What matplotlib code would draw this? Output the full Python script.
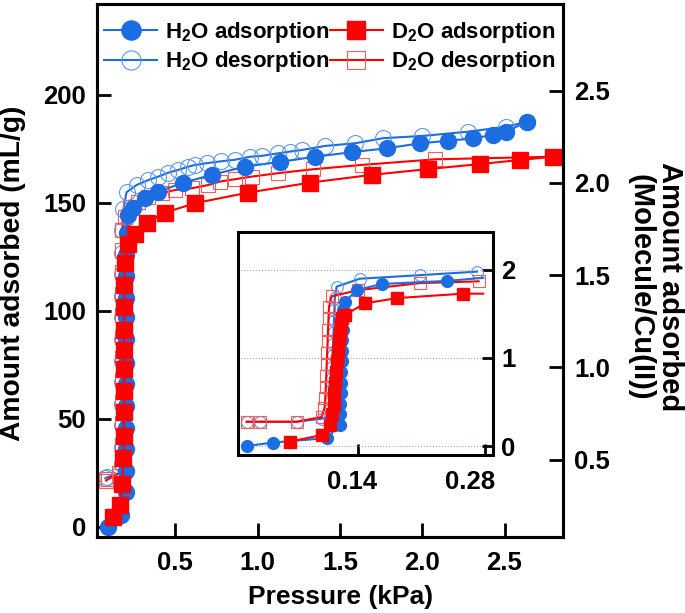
import numpy as np
import matplotlib
matplotlib.use("Agg")
import matplotlib.pyplot as plt
from matplotlib.transforms import ScaledTranslation

plt.rcParams['font.family'] = ['Liberation Sans', 'DejaVu Sans']
plt.rcParams['font.weight'] = 'bold'
plt.rcParams['mathtext.fontset'] = 'custom'
plt.rcParams['mathtext.rm'] = 'Liberation Sans:bold'
plt.rcParams['mathtext.bf'] = 'Liberation Sans:bold'

# main isotherms: pressure (kPa) vs amount adsorbed (mL/g)
h2o_ads_p = [0.093, 0.17, 0.2, 0.2, 0.2, 0.2, 0.2, 0.2, 0.201, 0.201, 0.201, 0.202, 0.202, 0.203, 0.204,
             0.21, 0.245, 0.316, 0.397, 0.549, 0.721, 0.923, 1.136, 1.349, 1.572, 1.784, 1.987, 2.159,
             2.31, 2.43, 2.51, 2.635]
h2o_ads_v = [0, 5.5, 16, 26, 36, 46, 56, 66, 76, 87, 97, 106, 116, 126, 136,
             144.4, 147.5, 152.2, 155.2, 159.4, 163, 166.8, 169, 171.4, 173.5, 175.3, 177.6, 178.8,
             179.9, 181.5, 183, 187.6]

h2o_des_p = [2.635, 2.51, 2.28, 2.0, 1.764, 1.59, 1.41, 1.268, 1.197, 1.126, 1.025, 0.954, 0.863, 0.78,
             0.69, 0.62, 0.579, 0.518, 0.457, 0.397, 0.336, 0.265, 0.204, 0.184, 0.178, 0.178, 0.178,
             0.178, 0.178, 0.178, 0.178, 0.178, 0.178, 0.178, 0.178, 0.178, 0.165, 0.085, 0.075]
h2o_des_v = [187.6, 185.3, 183, 181, 180, 177.6, 176.4, 174.5, 173.8, 173, 171.8, 171.4, 170, 169.3,
             168.4, 167.6, 166.8, 165.3, 164, 162.2, 160.6, 158.3, 155, 147, 137.5, 127, 117,
             107, 97, 87, 77, 67, 57, 47, 37, 29, 25, 23, 22.5]

d2o_ads_p = [0.123, 0.165, 0.178, 0.185, 0.187, 0.188, 0.188, 0.189, 0.189, 0.19, 0.19, 0.191, 0.192,
             0.215, 0.255, 0.326, 0.437, 0.62, 0.944, 1.318, 1.693, 2.037, 2.351, 2.594, 2.797]
d2o_ads_v = [4.8, 10, 20, 32, 42, 53, 63, 73, 82, 91, 102, 112, 122,
             131, 135.6, 140.9, 145.5, 149.9, 154.8, 159.4, 163, 165.7, 168, 169.9, 171.4]

d2o_des_p = [2.797, 2.078, 1.632, 1.338, 1.126, 0.964, 0.863, 0.77, 0.70, 0.6, 0.498, 0.417, 0.336,
             0.275, 0.225, 0.194, 0.178, 0.176, 0.176, 0.176, 0.176, 0.176, 0.176, 0.176, 0.176,
             0.176, 0.176, 0.176, 0.16, 0.09, 0.08]
d2o_des_v = [171.4, 170.2, 167.6, 165.6, 163.8, 162.2, 161, 159.9, 158.3, 156.8, 156, 154.5, 152.9,
             150.6, 148.3, 143.7, 137.5, 128, 118, 108, 98, 88, 78, 68, 58,
             48, 38, 30, 25, 22, 21.5]

# inset: low pressure region, molecule/Cu(II)
ins_h2o_ads_x = [0.0173, 0.0467, 0.1055, 0.120, 0.1203, 0.1206, 0.121, 0.1213, 0.1216, 0.122, 0.1223,
                 0.1226, 0.123, 0.1233, 0.1236, 0.1257, 0.1385, 0.166, 0.238, 0.278]
ins_h2o_ads_y = [0.0, 0.04, 0.09, 0.24, 0.36, 0.48, 0.6, 0.72, 0.84, 0.96, 1.08,
                 1.2, 1.32, 1.44, 1.55, 1.64, 1.77, 1.84, 1.875, 1.91]

ins_h2o_des_x = [0.271, 0.208, 0.142, 0.1165, 0.1145, 0.114, 0.1135, 0.113, 0.1125, 0.112, 0.1115,
                 0.111, 0.1105, 0.11, 0.1095, 0.109, 0.100, 0.0724, 0.032, 0.0173]
ins_h2o_des_y = [1.98, 1.94, 1.90, 1.81, 1.68, 1.55, 1.42, 1.29, 1.16, 1.03, 0.9,
                 0.77, 0.64, 0.52, 0.42, 0.34, 0.31, 0.276, 0.276, 0.276]

ins_d2o_ads_x = [0.065, 0.100, 0.109, 0.111, 0.113, 0.114, 0.115, 0.116, 0.117, 0.118, 0.119, 0.12,
                 0.121, 0.122, 0.1257, 0.1477, 0.183, 0.256, 0.278]
ins_d2o_ads_y = [0.05, 0.125, 0.24, 0.36, 0.48, 0.6, 0.72, 0.84, 0.96, 1.08, 1.2, 1.3,
                 1.38, 1.45, 1.49, 1.62, 1.68, 1.73, 1.73]

ins_d2o_des_x = [0.273, 0.208, 0.1404, 0.111, 0.108, 0.1075, 0.107, 0.1065, 0.106, 0.1055, 0.105,
                 0.1045, 0.104, 0.103, 0.100, 0.0724, 0.032, 0.0173]
ins_d2o_des_y = [1.87, 1.85, 1.77, 1.70, 1.58, 1.45, 1.32, 1.19, 1.06, 0.93, 0.8,
                 0.67, 0.55, 0.43, 0.33, 0.276, 0.276, 0.276]

x_ticks = [0.5, 1.0, 1.5, 2.0, 2.5]
left_ticks = [0, 50, 100, 150, 200]
right_ticks = [0.5, 1.0, 1.5, 2.0, 2.5]
inset_x_ticks = [0.14, 0.28]
inset_y_ticks = [0, 1, 2]

blue = '#1c6de2'
blue_open = '#5c98ee'
red = '#ff0000'
red_open = '#ff5a5a'

fig = plt.figure(figsize=(6.85, 6.13), dpi=100)
ax = fig.add_axes([0.1416, 0.124, 0.6803, 0.8695])

l2, = ax.plot(h2o_des_p, h2o_des_v, '-o', color=blue, lw=1.5, ms=11.5, mfc='none', mec=blue_open, mew=0.8)
l4, = ax.plot(d2o_des_p, d2o_des_v, '-s', color=red, lw=1.5, ms=10.5, mfc='none', mec=red_open, mew=0.8)
l1, = ax.plot(h2o_ads_p, h2o_ads_v, '-o', color=blue, lw=1.5, ms=11.5)
l3, = ax.plot(d2o_ads_p, d2o_ads_v, '-s', color=red, lw=1.5, ms=11)

ax.set_xlim(0.0243, 2.855)
ax.set_ylim(-4.63, 242.1)
ax.set_xticks(x_ticks)
ax.set_yticks(left_ticks)
ax.tick_params(direction='in', length=10, width=2, labelsize=18.5, pad=8)
ax.tick_params(axis='x', pad=10)
for s in ax.spines.values():
    s.set_linewidth(2.2)

ax2 = ax.twinx()
ax2.set_ylim(0.0813, 2.970)
ax2.set_yticks(right_ticks)
ax2.tick_params(direction='in', length=10, width=2, labelsize=18.5, pad=8)
for s in ax2.spines.values():
    s.set_linewidth(2.2)

ax.legend(handles=[l1, l2, l3, l4],
          labels=['H$_\\mathbf{2}$O adsorption', 'H$_\\mathbf{2}$O desorption',
                  'D$_\\mathbf{2}$O adsorption', 'D$_\\mathbf{2}$O desorption'],
          ncol=2, loc='upper left', bbox_to_anchor=(104 / 685, 1 - 20 / 613),
          bbox_transform=fig.transFigure, frameon=False, fontsize=16, handlelength=2.4,
          handletextpad=0.35, columnspacing=0.0, labelspacing=0.2, borderpad=0,
          borderaxespad=0, markerscale=1.2)

fig.text(13 / 685, 1 - 273 / 613, 'Amount adsorbed (mL/g)', rotation=90, ha='center', va='center',
         fontsize=20.3, fontweight='bold')
fig.text(341 / 685, 1 - 597 / 613, 'Pressure (kPa)', ha='center', va='center', fontsize=19,
         fontweight='bold')
fig.text(655 / 685, 1 - 287 / 613, 'Amount adsorbed\n(Molecule/Cu(II))', rotation=270, ha='center',
         va='center', fontsize=21, fontweight='bold', multialignment='center', linespacing=1.05)

# inset
ins = fig.add_axes([0.3474, 0.2577, 0.3723, 0.3638])
ins.plot(ins_h2o_des_x, ins_h2o_des_y, '-o', color=blue, lw=1.5, ms=8.5, mfc='none', mec=blue_open, mew=0.8)
ins.plot(ins_d2o_des_x, ins_d2o_des_y, '-s', color=red, lw=1.5, ms=8, mfc='none', mec=red_open, mew=0.8)
ins.plot(ins_h2o_ads_x, ins_h2o_ads_y, '-o', color=blue, lw=1.5, ms=8.5, markevery=slice(0, -1))
ins.plot(ins_d2o_ads_x, ins_d2o_ads_y, '-s', color=red, lw=1.5, ms=8, markevery=slice(0, -1))
ins.set_xlim(0.0077, 0.2888)
ins.set_ylim(-0.102, 2.43)
ins.set_xticks(inset_x_ticks)
ins.set_yticks(inset_y_ticks)
ins.yaxis.tick_right()
ins.grid(axis='y', color='#a0a0f5', ls=':', lw=0.8)
ins.set_axisbelow(True)
ins.tick_params(direction='in', length=8, width=2, labelsize=18.5)
ins.tick_params(axis='x', pad=11)
ins.tick_params(axis='y', pad=6)
for s in ins.spines.values():
    s.set_linewidth(2.2)

# the inset x labels sit a little left of their ticks in the original
for lab, shift in zip(ins.get_xticklabels(), [-6, -15]):
    lab.set_transform(lab.get_transform() + ScaledTranslation(shift / 100, 0, fig.dpi_scale_trans))

fig.savefig('out.png', dpi=100)
